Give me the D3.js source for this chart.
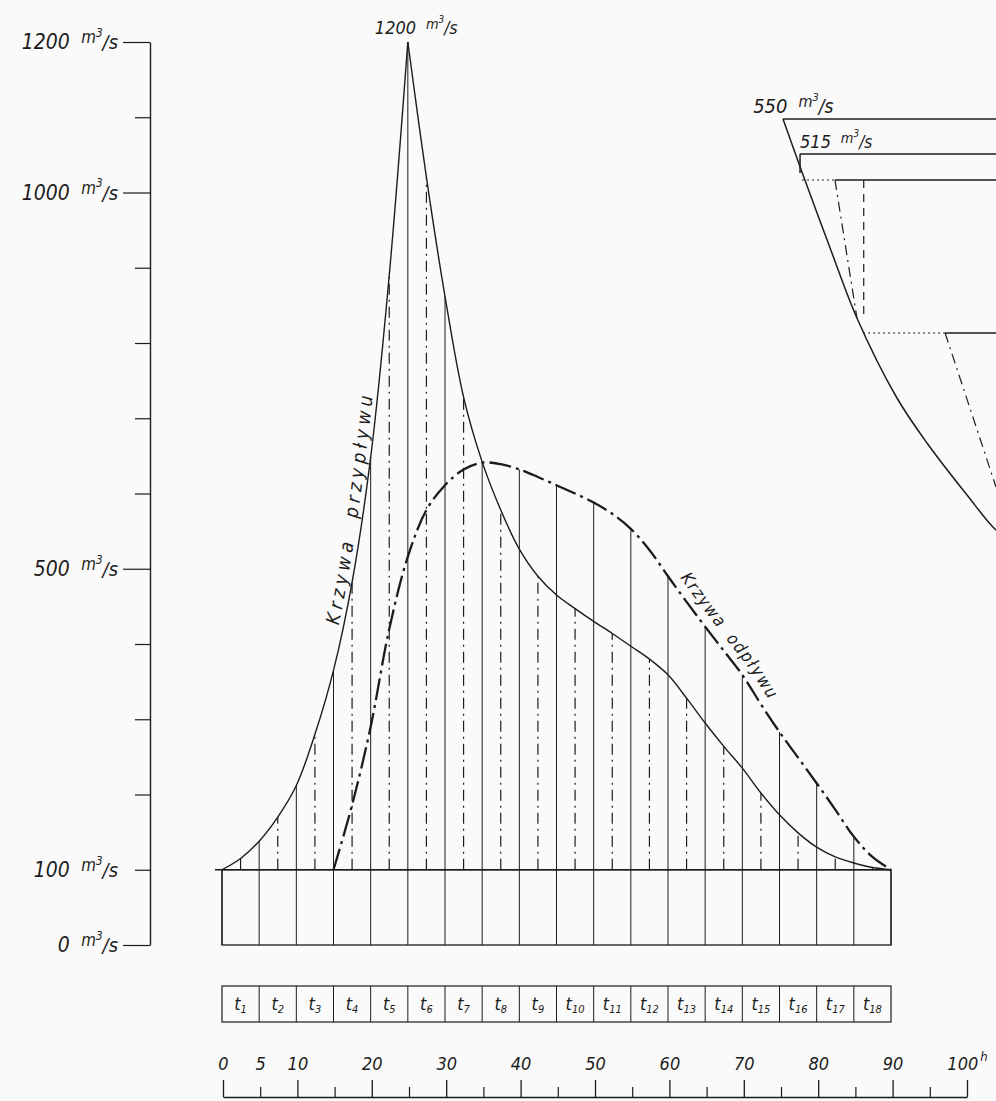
<!DOCTYPE html>
<html>
<head>
<meta charset="utf-8">
<script src="https://cdn.jsdelivr.net/npm/d3@7"></script>
<style>
  html, body { margin: 0; padding: 0; background: #fafafa; }
  svg { display: block; }
  svg text {
    font-family: "DejaVu Sans Condensed", "Liberation Sans Narrow", "DejaVu Sans", sans-serif;
    font-stretch: condensed;
    font-style: italic;
    fill: #1c1c1c;
  }
</style>
</head>
<body>
<svg id="chart"></svg>
<script>
const w = 996, h = 1101;
const ink = '#1c1c1c';

// hydrograph, read every 2.5 h  (m3/s)
const times = d3.range(0, 90.01, 2.5);
const inflow = [100, 115, 138, 170, 212, 280, 365, 482, 648, 890, 1200, 1020, 862, 728, 642, 578, 526, 490, 465, 447, 430, 414, 397, 380, 359, 328, 295, 264, 235, 202, 173, 149, 130, 117, 109, 103, 100];
const outflowTimes = d3.range(15, 90.01, 2.5);
const outflow = [100, 186, 290, 420, 516, 578, 611, 632, 641, 639, 632, 622, 611, 600, 588, 573, 553, 525, 490, 456, 423, 391, 359, 320, 283, 249, 215, 180, 144, 117, 100];
const peakTime = 25, peakValue = 1200;

// axes
const yTicks = d3.range(0, 1201, 100);
const yLabels = [0, 100, 500, 1000, 1200];
const yLongTicks = [0, 500, 1000, 1200];
const timeTicks = d3.range(0, 101, 10);
const timeMinor = d3.range(5, 100, 10);
const intervals = d3.range(1, 19);

// side sketch (cut by the page edge)
const insetX = [0, 8.9, 22.1, 34.7, 53.5, 67.6, 86.4, 100, 106];
const insetQ = [550, 497, 421, 351, 271, 226, 174, 139, 131];
const insetLabels = [{q: 550, x: -14, size: 20}, {q: 515, x: 8, size: 18}];
const insetSolid = [[0, 550, 106, 550], [8, 515, 106, 515], [8, 515, 8, 496], [24.4, 489, 106, 489], [76.1, 336, 106, 336]];
const insetDotted = [[8.9, 489, 24.4, 489], [37.6, 336, 76.1, 336]];
const insetDashDot = [[24.4, 489, 34.7, 351], [76.1, 336, 100, 182]];
const insetDashed = [[37.9, 489, 37.9, 351]];

const svg = d3.select('#chart').attr('width', w).attr('height', h).style('background', '#fafafa');

const x = d3.scaleLinear().domain([0, 90]).range([222, 891]);
const y = d3.scaleLinear().domain([0, 1200]).range([945, 42]);
const tScale = d3.scaleLinear().domain([0, 100]).range([223, 967]);
const ix = d3.scaleLinear().domain([0, 100]).range([783, 996]);
const iy = d3.scaleLinear().domain([550, 0]).range([119, 669]);

function addUnits(text, size) {
  text.append('tspan').attr('dx', size * 0.55).attr('dy', -size * 0.3).attr('font-size', size * 0.8).text('m');
  text.append('tspan').attr('dy', -size * 0.3).attr('font-size', size * 0.55).text('3');
  text.append('tspan').attr('dy', size * 0.6).attr('font-size', size * 0.95).text('/s');
}

const inAt = t => inflow[Math.round(t / 2.5)];
const outAt = t => (t < 15 ? 0 : outflow[Math.round((t - 15) / 2.5)]);

// left axis
const yAxis = svg.append('g')
  .attr('transform', 'translate(150,0)')
  .style('color', ink)
  .call(d3.axisLeft(y).tickValues(yTicks).tickSize(15).tickSizeOuter(0).tickFormat(''));
yAxis.select('.domain').attr('stroke-width', 1.4);
yAxis.selectAll('.tick line').attr('stroke-width', 1.2)
  .filter(d => yLongTicks.includes(d)).attr('x2', -27);

yLabels.forEach(v => {
  const t = svg.append('text')
    .attr('x', 118).attr('y', y(v)).attr('dy', '0.35em')
    .attr('text-anchor', 'end').attr('font-size', 21)
    .text(v);
  addUnits(t, 21);
});

// bottom box (0 - 100 m3/s) and interval lines
const bounds = d3.range(0, 90.01, 5);
svg.append('rect')
  .attr('x', x(0)).attr('y', y(100))
  .attr('width', x(90) - x(0)).attr('height', y(0) - y(100))
  .attr('fill', 'none').attr('stroke', ink).attr('stroke-width', 1.3);
svg.append('line')
  .attr('x1', x(0) - 7).attr('x2', x(90)).attr('y1', y(100)).attr('y2', y(100))
  .attr('stroke', ink).attr('stroke-width', 1.4);
svg.append('g').selectAll('line').data(bounds).enter().append('line')
  .attr('x1', d => x(d)).attr('x2', d => x(d))
  .attr('y1', y(100)).attr('y2', y(0))
  .attr('stroke', ink).attr('stroke-width', 1);

// solid verticals at interval limits, up to the higher curve
svg.append('g').selectAll('line').data(d3.range(5, 90, 5)).enter().append('line')
  .attr('x1', d => x(d)).attr('x2', d => x(d))
  .attr('y1', y(100)).attr('y2', d => y(Math.max(inAt(d), outAt(d))))
  .attr('stroke', ink).attr('stroke-width', 1);

// dash-dot verticals at interval middles, up to the inflow
svg.append('g').selectAll('line').data(d3.range(2.5, 90, 5)).enter().append('line')
  .attr('x1', d => x(d)).attr('x2', d => x(d))
  .attr('y1', y(100)).attr('y2', d => y(inAt(d)))
  .attr('stroke', ink).attr('stroke-width', 1.2)
  .attr('stroke-dasharray', '11,5,2,5');

// curves
const line = d3.line().x(d => x(d.t)).y(d => y(d.v)).curve(d3.curveCatmullRom.alpha(0.5));
const inPts = times.map((t, i) => ({t, v: inflow[i]}));
const outPts = outflowTimes.map((t, i) => ({t, v: outflow[i]}));
const pk = times.indexOf(peakTime);
const risePts = inPts.slice(0, pk + 1);
const fallPts = inPts.slice(pk);

svg.append('path').attr('id', 'inflow-rise').attr('d', line(risePts))
  .attr('fill', 'none').attr('stroke', ink).attr('stroke-width', 1.4);
svg.append('path').attr('d', line(fallPts))
  .attr('fill', 'none').attr('stroke', ink).attr('stroke-width', 1.4);
svg.append('path').attr('id', 'outflow').attr('d', line(outPts))
  .attr('fill', 'none').attr('stroke', ink).attr('stroke-width', 2.3)
  .attr('stroke-dasharray', '22,5,3,5');

function lengthTo(pts, k) {
  const p = svg.append('path').attr('d', line(pts.slice(0, k + 1)));
  const L = p.node().getTotalLength();
  p.remove();
  return L;
}

// curve names
svg.append('text').attr('font-size', 19).attr('letter-spacing', 4.5).attr('word-spacing', 10).attr('dy', -5)
  .append('textPath').attr('href', '#inflow-rise')
  .attr('startOffset', lengthTo(risePts, times.indexOf(15)) + 45)
  .text('Krzywa przypływu');
svg.append('text').attr('font-size', 17).attr('letter-spacing', 1.5).attr('word-spacing', 6).attr('dy', -9)
  .append('textPath').attr('href', '#outflow')
  .attr('startOffset', lengthTo(outPts, outflowTimes.indexOf(60)) + 8)
  .text('Krzywa odpływu');

// peak label
const pl = svg.append('text')
  .attr('x', x(peakTime) - 33).attr('y', y(peakValue) - 8)
  .attr('font-size', 18).text(peakValue);
addUnits(pl, 18);

// interval boxes t1..t18
const boxTop = 986, boxBottom = 1022;
svg.append('rect')
  .attr('x', x(0)).attr('y', boxTop)
  .attr('width', x(90) - x(0)).attr('height', boxBottom - boxTop)
  .attr('fill', 'none').attr('stroke', ink).attr('stroke-width', 1.2);
svg.append('g').selectAll('line').data(bounds.slice(1, -1)).enter().append('line')
  .attr('x1', d => x(d)).attr('x2', d => x(d))
  .attr('y1', boxTop).attr('y2', boxBottom)
  .attr('stroke', ink).attr('stroke-width', 1);
const tl = svg.append('g').selectAll('text').data(intervals).enter().append('text')
  .attr('x', d => x(d * 5 - 2.5)).attr('y', 1010)
  .attr('text-anchor', 'middle').attr('font-size', 18)
  .text('t');
tl.append('tspan').attr('font-size', 11).attr('dy', 3).text(d => d);

// time axis (hours)
const tAxis = svg.append('g')
  .attr('transform', 'translate(0,1097)')
  .style('color', ink)
  .call(d3.axisTop(tScale).tickValues(timeTicks).tickSize(17).tickSizeOuter(0).tickPadding(10));
tAxis.attr('font-size', 18);
tAxis.select('.domain').attr('stroke-width', 1.3);
tAxis.selectAll('.tick line').attr('stroke-width', 1.3);
tAxis.selectAll('.tick text').filter(d => d === 100)
  .append('tspan').attr('font-size', 13).attr('dy', -9).attr('dx', 2).text('h');

const tMinor = svg.append('g')
  .attr('transform', 'translate(0,1097)')
  .style('color', ink)
  .call(d3.axisTop(tScale).tickValues(timeMinor).tickSize(10).tickSizeOuter(0).tickPadding(17)
    .tickFormat(d => (d === 5 ? d : '')));
tMinor.attr('font-size', 18);
tMinor.select('.domain').remove();
tMinor.selectAll('.tick line').attr('stroke-width', 1.2);

// side sketch
const inset = svg.append('g');
inset.append('path')
  .attr('d', d3.line().x(d => ix(d[0])).y(d => iy(d[1])).curve(d3.curveCatmullRom.alpha(0.5))(insetX.map((v, i) => [v, insetQ[i]])))
  .attr('fill', 'none').attr('stroke', ink).attr('stroke-width', 1.5);
function segs(data, width, dash) {
  inset.append('g').selectAll('line').data(data).enter().append('line')
    .attr('x1', d => ix(d[0])).attr('y1', d => iy(d[1]))
    .attr('x2', d => ix(d[2])).attr('y2', d => iy(d[3]))
    .attr('stroke', ink).attr('stroke-width', width)
    .attr('stroke-dasharray', dash);
}
segs(insetSolid, 1.5, null);
segs(insetDotted, 1.2, '2,3');
segs(insetDashDot, 1.2, '10,5,2,5');
segs(insetDashed, 1.2, '8,6');
insetLabels.forEach(l => {
  const t = inset.append('text')
    .attr('x', ix(l.x)).attr('y', iy(l.q) - 6)
    .attr('font-size', l.size)
    .text(l.q);
  addUnits(t, l.size);
});
</script>
</body>
</html>
